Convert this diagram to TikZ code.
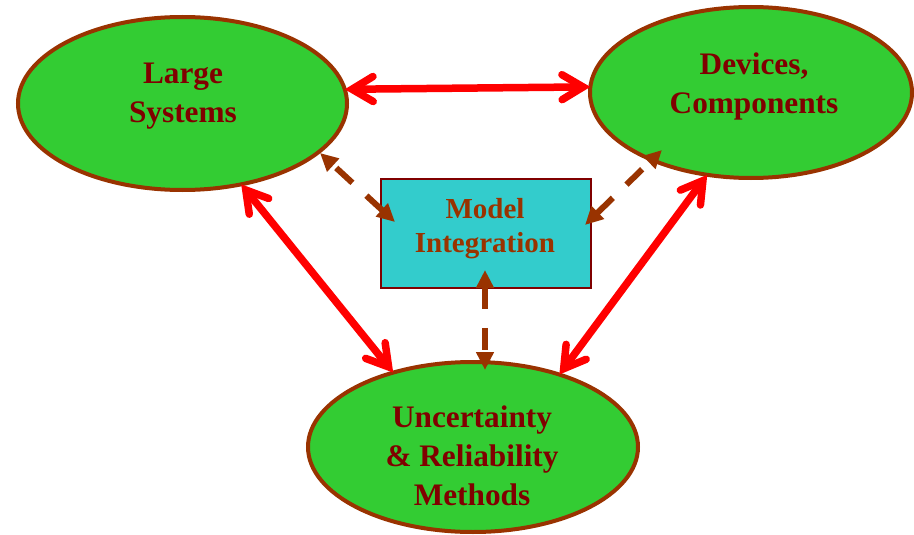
\documentclass[tikz,border=0pt]{standalone}
\usepackage{fontspec}
\setmainfont{Liberation Serif}
\usetikzlibrary{shapes.geometric,arrows.meta,calc}
\definecolor{egreen}{HTML}{33CC33}
\definecolor{ebrown}{HTML}{993300}
\definecolor{tred}{HTML}{800000}
\definecolor{bcyan}{HTML}{33CCCC}
\tikzset{
  oval/.style={ellipse, draw=ebrown, fill=egreen, line width=4pt, inner sep=0pt, outer sep=0pt},
  ovaltext/.style={text=tred, align=center, font=\bfseries\fontsize{31.3}{39}\selectfont, inner sep=0pt},
  boxtext/.style={text=ebrown, align=center, font=\bfseries\fontsize{29}{34}\selectfont, inner sep=0pt},
  bigarrow/.style={draw=red, line width=7.5pt, line cap=round,
    {Straight Barb[length=21pt,width=25pt,line cap=round]}-{Straight Barb[length=21pt,width=25pt,line cap=round]}},
  dasharrow/.style={draw=ebrown, line width=6pt, dash pattern=on 22pt off 19pt,
    {Triangle[length=18pt,width=17pt]}-{Triangle[length=18pt,width=17pt]}}
}
\begin{document}
\begin{tikzpicture}[x=1pt,y=-1pt]
\useasboundingbox (0,0) rectangle (914,535);
% ellipses
\node[oval, minimum width=329pt, minimum height=173pt] (ls) at (182.5,103.5) {};
\node[oval, minimum width=322pt, minimum height=171pt] (dc) at (751,92.5) {};
\node[oval, minimum width=330pt, minimum height=170pt] (un) at (473,447) {};
% box
\node[draw=tred, fill=bcyan, line width=1.5pt, minimum width=210pt, minimum height=109pt, inner sep=0pt, outer sep=0pt] (mi) at (486,233.5) {};
% labels
\node[ovaltext] (lsT) at (183,96) {Large\\Systems};
\node[ovaltext] (dcT) at (754,86) {Devices,\\Components};
\node[ovaltext] (unT) at (472,456) {Uncertainty\\\& Reliability\\Methods};
\node[boxtext] (miT) at (485,229) {Model\\Integration};
% red arrows
\draw[bigarrow] (ls.5) -- (dc.178.7);
\draw[bigarrow] (ls.-54.1) -- (un.137.1);
\draw[bigarrow] (dc.-118.1) -- (un.40.1);
% dashed arrows
\draw[dasharrow] ($(mi.west)+(14,-11.5)$) -- ($(ls.center)+(137.5,49.5)$);
\draw[dasharrow] ($(mi.east)+(-6,-8.5)$) -- ($(dc.center)+(-89,57.5)$);
\draw[dasharrow] ($(mi.south)+(-1,-18)$) -- ($(un.center)+(12,-77)$);
\end{tikzpicture}
\end{document}
